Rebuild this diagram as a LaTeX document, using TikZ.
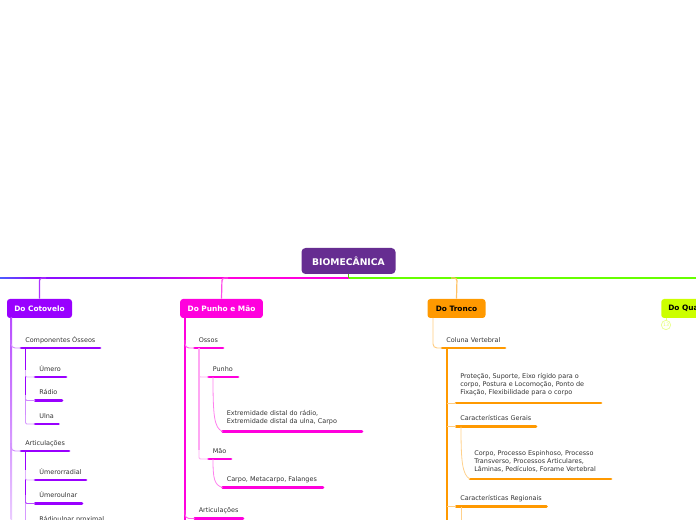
\documentclass[tikz,border=0pt]{standalone}
\usepackage{fontspec}
\setmainfont{DejaVu Sans}
\definecolor{cpurple}{HTML}{9900FF}
\definecolor{cpink}{HTML}{FF00DD}
\definecolor{corange}{HTML}{FF9900}
\definecolor{clime}{HTML}{CCFF00}
\definecolor{croot}{HTML}{662D91}
\definecolor{ctxt}{HTML}{333333}
\definecolor{cgreen}{HTML}{66FF00}
\definecolor{cblue}{HTML}{4A5CFF}
\tikzset{x=0.75pt,y=-0.75pt,
 topic/.style={rounded corners=2.2pt,minimum height=14.25pt,inner sep=0pt,font=\fontsize{5.55pt}{6.4pt}\selectfont\bfseries,anchor=center},
 lbl/.style={inner sep=0pt,align=left,text=ctxt,font=\fontsize{4.85pt}{6pt}\selectfont},
 bar/.style={line width=2.1pt,line cap=round},
 trunk/.style={line width=0.95pt},
 twig/.style={line width=0.7pt,rounded corners=3pt},
 curve/.style={line width=0.6pt},
}
% name, colour, x1, x2, y, text: one-line label
\newcommand{\leafitem}[6]{%
 \coordinate (#1a) at (#3,#5); \coordinate (#1b) at (#4,#5);
 \draw[bar,#2] (#1a) -- (#1b);
 \node[lbl,anchor=base west] (#1) at ([xshift=3pt,yshift=4.5pt]#1a) {#6};
}
% the same for a label of several lines
\newcommand{\leafmulti}[6]{%
 \coordinate (#1a) at (#3,#5); \coordinate (#1b) at (#4,#5);
 \draw[bar,#2] (#1a) -- (#1b);
 \node[lbl,anchor=south west] (#1) at ([xshift=3pt,yshift=5pt]#1a) {#6};
}
\begin{document}
\begin{tikzpicture}
\useasboundingbox (0,0) rectangle (696,520);
\node[topic,fill=croot,text=white,minimum width=70.5pt,minimum height=19.5pt,rounded corners=3pt,font=\fontsize{6.9pt}{8pt}\selectfont\bfseries] (root) at (348.5,261) {BIOMECÂNICA};
\coordinate (rb) at (348.5,278);
\coordinate (rgt) at (696,278);
% main branch line
\fill[left color=cblue,right color=cpurple] (0,277.4) rectangle (40,278.7);
\fill[cpurple!85!cblue] (40,277.4) rectangle (130,278.7);
\fill[left color=cpurple!85!cblue,right color=cpink] (130,277.4) rectangle (222,278.7);
\fill[cpink] (222,277.4) rectangle (348.5,278.7);
\draw[line width=1pt,color=cgreen!80!black] (root.south) -- (rb);
\draw[line width=1pt,color=cgreen] (rb) -- (rgt);
% topics
\node[topic,fill=cpurple,text=white,minimum width=48.75pt] (t1) at (39.5,308.5) {Do Cotovelo};
\node[topic,fill=cpink,text=white,minimum width=62pt] (t2) at (221.5,308.5) {Do Punho e Mão};
\node[topic,fill=corange,text=black,minimum width=43.5pt] (t3) at (456.5,308.5) {Do Tronco};
\node[topic,fill=clime,text=black,anchor=west,inner xsep=5.25pt] (t4) at (661,308.5) {Do Quadril};
\draw[line width=0.9pt,cpurple!80,rounded corners=2pt] (t1.north) -- (39.5,278) -- (46,278);
\draw[line width=0.9pt,cpink!70,rounded corners=2pt] (t2.north) -- (222,278) -- (228,278);
\draw[line width=0.9pt,corange!60,rounded corners=2pt] (t3.north) -- (457,278) -- (451,278);
% badge
\node[circle,draw=clime!45,line width=0.5pt,minimum size=7pt,inner sep=0pt,text=clime!60,font=\fontsize{3.5pt}{4pt}\selectfont] (badge) at (666,325) {13};
\draw[line width=0.5pt,clime!50] (666,318) -- (badge.north);

% Do Cotovelo
\fill[top color=cpurple!70,bottom color=cpurple!20] (10.5,318) rectangle (12,520);
\leafitem{a1}{cpurple}{21}{100}{348}{Componentes Ósseos}
\leafitem{a2}{cpurple}{35}{66}{377}{Úmero}
\leafitem{a3}{cpurple}{35}{62}{400.5}{Rádio}
\leafitem{a4}{cpurple}{35}{58.5}{424}{Ulna}
\leafitem{a5}{cpurple}{21}{69}{451}{Articulações}
\leafitem{a6}{cpurple}{35}{86}{480}{Úmerorradial}
\leafitem{a7}{cpurple}{35}{82}{503.5}{Úmeroulnar}
\leafitem{a8}{cpurple}{35}{104}{527}{Rádioulnar proximal}
\draw[twig,cpurple!45] (11,340) |- (a1a);
\draw[twig,cpurple!45] (11,443) |- (a5a);
\draw[trunk,cpurple] (25.5,348) -- (25.5,400);
\draw[trunk,cpurple!45] (25.5,400) -- (25.5,418);
\draw[trunk,cpurple] (25.5,451) -- (25.5,503);
\draw[trunk,cpurple!40] (25.5,503) -- (25.5,520);
\draw[twig,cpurple!30,rounded corners=1pt] (25.5,370) |- (a2a);
\draw[twig,cpurple!45,rounded corners=1pt] (25.5,395) |- (a3a);
\draw[twig,cpurple!40,rounded corners=1pt] (25.5,415) |- (a4a);
\draw[twig,cpurple!30,rounded corners=1pt] (25.5,470) |- (a6a);
\draw[twig,cpurple!70,rounded corners=1pt] (25.5,495) |- (a7a);

% Do Punho e Mao
\draw[trunk,cpink] (185,318) -- (185,520);
\leafitem{b1}{cpink}{194.5}{223}{348}{Ossos}
\leafitem{b2}{cpink}{208.5}{238}{377}{Punho}
\leafmulti{b3}{cpink}{222.5}{362}{431.5}{Extremidade distal do rádio,\\Extremidade distal da ulna, Carpo}
\leafitem{b4}{cpink}{208.5}{231}{459}{Mão}
\leafitem{b5}{cpink}{222.5}{323}{487.5}{Carpo, Metacarpo, Falanges}
\leafitem{b6}{cpink}{194.5}{243}{518.5}{Articulações}
\draw[twig,cpink!60] (185,340) |- (b1a);
\draw[twig,cpink!60] (185,510) |- (b6a);
\draw[trunk,cpink!35] (199,348) -- (199,450);
\draw[twig,cpink!35,rounded corners=1pt] (199,450) |- (b4a);
\draw[twig,cpink!35,rounded corners=1pt] (199,370) |- (b2a);
\draw[curve,cpink!50] (213,377) .. controls (213,415) and (214,428) .. (b3a);
\draw[curve,cpink!50] (213,459) .. controls (213,478) and (214,485) .. (b5a);

% Do Tronco
\coordinate (c1top) at (433,318);
\leafitem{c1}{corange}{442}{505}{348}{Coluna Vertebral}
\leafmulti{c2}{corange}{456}{601}{403}{Proteção, Suporte, Eixo rígido para o\\corpo, Postura e Locomoção, Ponto de\\Fixação, Flexibilidade para o corpo}
\leafitem{c3}{corange}{456}{536}{426.5}{Características Gerais}
\leafmulti{c4}{corange}{470}{611}{479}{Corpo, Processo Espinhoso, Processo\\Transverso, Processos Articulares,\\Lâminas, Pedículos, Forame Vertebral}
\leafitem{c5}{corange}{456}{546.5}{506.5}{Características Regionais}
\draw[twig,corange!50] (c1top) |- (c1a);
\draw[trunk,corange] (447,348) -- (447,520);
\draw[twig,corange!50,rounded corners=1pt] (447,403) -- (c2a);
\draw[twig,corange!50,rounded corners=1pt] (447,426.5) -- (c3a);
\draw[twig,corange!50,rounded corners=1pt] (447,506.5) -- (c5a);
\draw[curve,corange!45] (461,426.5) .. controls (461,460) and (462,475) .. (c4a);
\draw[curve,corange!45] (461,506.5) -- (461,520);
\end{tikzpicture}
\end{document}
